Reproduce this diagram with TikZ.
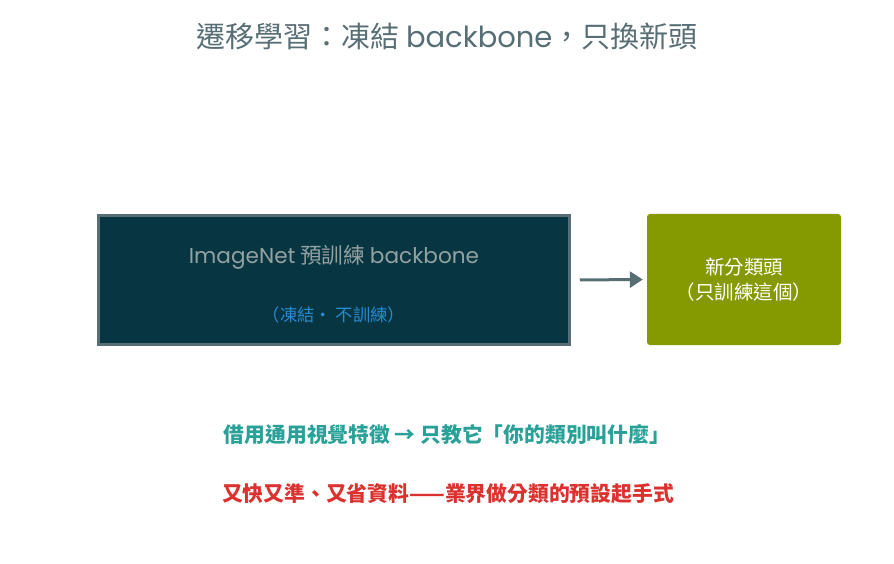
\documentclass[tikz,border=0pt]{standalone}
\usepackage{fontspec}
\setmainfont{Noto Sans CJK TC}
\newfontfamily\latinfont{Poppins}
\usepackage{tikz}
\usetikzlibrary{arrows.meta,positioning}
\definecolor{basegray}{HTML}{586E75}
\definecolor{lightgray}{HTML}{93A1A1}
\definecolor{deepteal}{HTML}{073642}
\definecolor{solblue}{HTML}{268BD2}
\definecolor{solgreen}{HTML}{859900}
\definecolor{solcyan}{HTML}{2AA198}
\definecolor{solred}{HTML}{DC322F}

\begin{document}
\begin{tikzpicture}[x=1pt,y=-1pt,
  frozenbox/.style={draw=basegray,line width=2.5pt,fill=deepteal,minimum width=471pt,minimum height=129pt,inner sep=0pt},
  headbox/.style={fill=solgreen,rounded corners=3pt,minimum width=194pt,minimum height=131pt,inner sep=0pt,align=center,text=white,font=\fontsize{19.5}{25}\selectfont},
  flow/.style={-{Triangle[length=13pt,width=16pt]},line width=3pt,draw=basegray}]
  \useasboundingbox (0,0) rectangle (894,564);
  \node[text=basegray,font=\fontsize{29}{32}\selectfont] (title) at (447,36) {遷移學習：凍結 {\latinfont backbone}，只換新頭};
  % frozen backbone and new head
  \node[frozenbox] (bb) at (334,280) {};
  \node[text=lightgray,font=\fontsize{21.6}{24}\selectfont] (bbname) at (334,257) {{\latinfont ImageNet} 預訓練 {\latinfont backbone}};
  \node[text=solblue,font=\fontsize{17.3}{20}\selectfont] (bbnote) at (334,315) {（凍結・ 不訓練）};
  \node[headbox] (head) at (744,279.5) {新分類頭\\（只訓練這個）};
  \draw[flow,shorten <=9pt,shorten >=4pt] (bb.east) -- (head.west);
  % takeaways
  \node[text=solcyan,font=\bfseries\fontsize{20.8}{24}\selectfont] (gist) at (447,435) {借用通用視覺特徵 → 只教它「你的類別叫什麼」};
  \node[text=solred,font=\bfseries\fontsize{20.8}{24}\selectfont] (why) at (448,494) {又快又準、又省資料——業界做分類的預設起手式};
\end{tikzpicture}
\end{document}
